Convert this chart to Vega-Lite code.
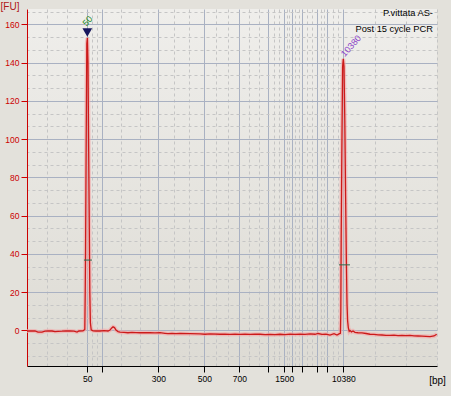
{
  "$schema": "https://vega.github.io/schema/vega-lite/v6.json",
  "width": 410,
  "height": 357,
  "autosize": {"type": "none"},
  "padding": {"left": 27, "top": 9, "right": 14, "bottom": 30},
  "background": "#e3e1db",
  "view": {
    "stroke": null,
    "fill": {"gradient": "linear", "x1": 0, "y1": 0, "x2": 0, "y2": 1, "stops": [{"offset": 0, "color": "#efeeeb"}, {"offset": 1, "color": "#dddbd4"}]}
  },
  "config": {
    "font": "Liberation Sans",
    "axis": {"labelFont": "Liberation Sans", "titleFont": "Liberation Sans"}
  },
  "datasets": {
    "trace": [
      {"t": 20.00, "fu": -0.3}, {"t": 20.73, "fu": -0.3}, {"t": 21.95, "fu": -0.3}, {"t": 22.68, "fu": -0.9},
      {"t": 23.66, "fu": -0.9}, {"t": 24.39, "fu": -0.4}, {"t": 25.12, "fu": -0.2}, {"t": 26.10, "fu": -0.3},
      {"t": 26.83, "fu": -0.6}, {"t": 27.56, "fu": -0.5}, {"t": 28.54, "fu": -0.4}, {"t": 29.51, "fu": -0.2},
      {"t": 30.49, "fu": -0.3}, {"t": 31.46, "fu": -0.4}, {"t": 32.20, "fu": -0.9}, {"t": 32.68, "fu": -0.3},
      {"t": 33.66, "fu": -0.2}, {"t": 34.10, "fu": 0.5}, {"t": 34.20, "fu": 20}, {"t": 34.29, "fu": 44},
      {"t": 34.44, "fu": 100}, {"t": 34.59, "fu": 150}, {"t": 34.73, "fu": 153}, {"t": 34.88, "fu": 140},
      {"t": 35.02, "fu": 100}, {"t": 35.17, "fu": 60}, {"t": 35.32, "fu": 20}, {"t": 35.46, "fu": 4},
      {"t": 35.66, "fu": 0.3}, {"t": 36.10, "fu": -0.2}, {"t": 36.83, "fu": -0.3}, {"t": 37.80, "fu": -0.3},
      {"t": 38.78, "fu": -0.1}, {"t": 39.76, "fu": -0.3}, {"t": 40.24, "fu": 0.2}, {"t": 40.61, "fu": 1.2},
      {"t": 40.98, "fu": 1.9}, {"t": 41.34, "fu": 1.5}, {"t": 41.71, "fu": 0.2}, {"t": 42.20, "fu": -0.6},
      {"t": 42.68, "fu": -0.9}, {"t": 43.66, "fu": -1.0}, {"t": 44.63, "fu": -1.2}, {"t": 45.61, "fu": -1.0},
      {"t": 46.59, "fu": -1.1}, {"t": 47.56, "fu": -1.2}, {"t": 48.78, "fu": -1.1}, {"t": 50.00, "fu": -1.2},
      {"t": 51.22, "fu": -1.3}, {"t": 52.44, "fu": -1.2}, {"t": 53.66, "fu": -1.5}, {"t": 54.39, "fu": -1.7},
      {"t": 55.37, "fu": -1.5}, {"t": 56.34, "fu": -1.7}, {"t": 57.32, "fu": -1.6}, {"t": 59.76, "fu": -1.7},
      {"t": 62.20, "fu": -1.8}, {"t": 63.41, "fu": -2.0}, {"t": 64.63, "fu": -1.8}, {"t": 67.07, "fu": -2.0},
      {"t": 68.29, "fu": -1.9}, {"t": 69.51, "fu": -2.1}, {"t": 70.73, "fu": -1.9}, {"t": 71.95, "fu": -2.1},
      {"t": 73.17, "fu": -1.9}, {"t": 74.39, "fu": -2.1}, {"t": 75.61, "fu": -2.0}, {"t": 76.83, "fu": -2.0},
      {"t": 78.05, "fu": -2.2}, {"t": 79.27, "fu": -2.1}, {"t": 80.49, "fu": -2.2}, {"t": 81.71, "fu": -2.0},
      {"t": 82.93, "fu": -2.2}, {"t": 84.15, "fu": -1.9}, {"t": 85.37, "fu": -2.1}, {"t": 86.59, "fu": -1.9},
      {"t": 87.80, "fu": -2.1}, {"t": 89.02, "fu": -1.8}, {"t": 90.24, "fu": -2.0}, {"t": 90.98, "fu": -1.6},
      {"t": 91.95, "fu": -2.1}, {"t": 92.93, "fu": -1.9}, {"t": 93.90, "fu": -2.4}, {"t": 94.88, "fu": -1.7},
      {"t": 95.61, "fu": -2.4}, {"t": 96.10, "fu": -1.8}, {"t": 96.44, "fu": -1.5}, {"t": 96.54, "fu": 10},
      {"t": 96.63, "fu": 48}, {"t": 96.78, "fu": 90}, {"t": 96.98, "fu": 138}, {"t": 97.15, "fu": 142},
      {"t": 97.32, "fu": 138}, {"t": 97.51, "fu": 110}, {"t": 97.71, "fu": 70}, {"t": 97.90, "fu": 35},
      {"t": 98.05, "fu": 14}, {"t": 98.20, "fu": 5}, {"t": 98.37, "fu": 1.5}, {"t": 98.59, "fu": -0.5},
      {"t": 98.78, "fu": 0}, {"t": 99.15, "fu": -0.8}, {"t": 99.51, "fu": -0.3}, {"t": 100.00, "fu": -1.0},
      {"t": 100.73, "fu": -1.2}, {"t": 101.71, "fu": -1.3}, {"t": 102.68, "fu": -1.6}, {"t": 103.66, "fu": -2.0},
      {"t": 104.63, "fu": -2.1}, {"t": 105.61, "fu": -2.3}, {"t": 106.59, "fu": -2.4}, {"t": 107.56, "fu": -2.6},
      {"t": 108.54, "fu": -2.6}, {"t": 109.51, "fu": -2.5}, {"t": 110.49, "fu": -2.7}, {"t": 111.46, "fu": -2.6},
      {"t": 112.44, "fu": -2.7}, {"t": 113.41, "fu": -2.6}, {"t": 114.39, "fu": -2.8}, {"t": 115.37, "fu": -2.9},
      {"t": 116.34, "fu": -3.0}, {"t": 117.32, "fu": -3.1}, {"t": 118.29, "fu": -3.2}, {"t": 119.27, "fu": -2.9},
      {"t": 119.93, "fu": -2.0}
    ],
    "halfmarks": [
      {"t": 33.9, "t2": 35.85, "fu": 36.8},
      {"t": 96.1, "t2": 98.78, "fu": 34.3}
    ],
    "peaklabels": [
      {"bp": "50", "t": 34.76, "fu": 161.8},
      {"bp": "10380", "t": 99.02, "fu": 148.8}
    ],
    "markers": [
      {"bp": "50", "t": 34.71, "fu": 155.8}
    ]
  },
  "layer": [
    {
      "data": {"name": "trace"},
      "mark": {"type": "line", "stroke": "#f3a9a9", "strokeWidth": 4, "opacity": 0.65, "interpolate": "linear"},
      "encoding": {
        "x": {
          "field": "t", "type": "quantitative",
          "scale": {"domain": [20, 120], "nice": false, "zero": false},
          "axis": {
            "orient": "top", "values": [24.90, 29.81, 35.93, 37.15, 42.92, 47.47, 55.76, 59.50, 66.09, 68.93, 74.14, 76.49, 80.15, 81.46, 83.36, 83.96, 85.42, 86.29, 88.37, 89.58, 91.61, 92.43, 94.54, 95.85, 104.77, 112.38, 120],
            "grid": true, "gridColor": "#c5c5c5", "gridDash": [3, 3], "gridWidth": 1,
            "labels": false, "ticks": false, "domain": false, "title": null
          }
        },
        "y": {
          "field": "fu", "type": "quantitative",
          "scale": {"domain": [-18.6, 168.1], "nice": false, "zero": false},
          "axis": {
            "orient": "right", "values": [-13.333, -6.667, 6.667, 13.333, 26.667, 33.333, 46.667, 53.333, 66.667, 73.333, 86.667, 93.333, 106.667, 113.333, 126.667, 133.333, 146.667, 153.333, 166.667],
            "grid": true, "gridColor": "#c5c5c5", "gridDash": [3, 3], "gridWidth": 1,
            "labels": false, "ticks": false, "domain": false, "title": null
          }
        }
      }
    },
    {
      "data": {"name": "trace"},
      "mark": {"type": "line", "stroke": "#cc1a1a", "strokeWidth": 1.3, "interpolate": "linear"},
      "encoding": {
        "x": {
          "field": "t", "type": "quantitative",
          "scale": {"domain": [20, 120], "nice": false, "zero": false},
          "axis": {
            "orient": "bottom",
            "values": [34.71, 38.37, 52.02, 63.24, 71.78, 78.85, 82.76, 84.56, 87.15, 90.80, 93.24, 97.15],
            "labelExpr": "datum.value == 34.71 ? '50' : datum.value == 52.02 ? '300' : datum.value == 63.24 ? '500' : datum.value == 71.78 ? '700' : datum.value == 82.76 ? '1500' : datum.value == 97.15 ? '10380' : ''",
            "grid": true, "gridColor": "#a9b1c2", "gridWidth": 1,
            "domainColor": "#000000", "domainWidth": 1,
            "tickColor": "#000000", "tickSize": 6, "tickWidth": 1,
            "labelColor": "#000000", "labelFontSize": 8.5, "labelPadding": 2,
            "labelOverlap": false, "labelFlush": false,
            "title": "[bp]", "titleX": 410, "titleY": 14, "titleAlign": "center", "titleBaseline": "middle",
            "titleFontSize": 10, "titleFontWeight": "normal", "titleColor": "#000000"
          }
        },
        "y": {
          "field": "fu", "type": "quantitative",
          "scale": {"domain": [-18.6, 168.1], "nice": false, "zero": false},
          "axis": {
            "orient": "left",
            "values": [0, 20, 40, 60, 80, 100, 120, 140, 160],
            "grid": true, "gridColor": "#a9b1c2", "gridWidth": 1,
            "domainColor": "#cc0000", "domainWidth": 1,
            "tickColor": "#cc0000", "tickSize": 6, "tickWidth": 1,
            "labelColor": "#cc0000", "labelFontSize": 8.5, "labelPadding": 2,
            "labelOverlap": false, "labelFlush": false,
            "title": "[FU]", "titleAngle": 0, "titleX": -17.5, "titleY": -3, "titleAlign": "center", "titleBaseline": "middle",
            "titleFontSize": 10, "titleFontWeight": "normal", "titleColor": "#b01818"
          }
        }
      }
    },
    {
      "data": {"name": "halfmarks"},
      "mark": {"type": "rule", "stroke": "#2f6a4c", "strokeWidth": 1},
      "encoding": {
        "x": {"field": "t", "type": "quantitative", "scale": {"domain": [20, 120], "nice": false, "zero": false}, "axis": null},
        "x2": {"field": "t2"},
        "y": {"field": "fu", "type": "quantitative", "scale": {"domain": [-18.6, 168.1], "nice": false, "zero": false}, "axis": null}
      }
    },
    {
      "data": {"name": "markers"},
      "mark": {"type": "point", "shape": "triangle-down", "filled": true, "size": 95, "color": "#16165e", "opacity": 1},
      "encoding": {
        "x": {"field": "t", "type": "quantitative", "scale": {"domain": [20, 120], "nice": false, "zero": false}, "axis": null},
        "y": {"field": "fu", "type": "quantitative", "scale": {"domain": [-18.6, 168.1], "nice": false, "zero": false}, "axis": null}
      }
    },
    {
      "data": {"name": "peaklabels"},
      "mark": {"type": "text", "angle": -48, "align": "center", "baseline": "middle", "fontSize": 9, "font": "Liberation Sans"},
      "encoding": {
        "x": {"field": "t", "type": "quantitative", "scale": {"domain": [20, 120], "nice": false, "zero": false}, "axis": null},
        "y": {"field": "fu", "type": "quantitative", "scale": {"domain": [-18.6, 168.1], "nice": false, "zero": false}, "axis": null},
        "text": {"field": "bp"},
        "color": {"field": "bp", "type": "nominal", "scale": {"domain": ["50", "10380"], "range": ["#238a23", "#8a3cc8"]}, "legend": null}
      }
    },
    {
      "data": {"values": [{}]},
      "mark": {"type": "text", "text": ["P.vittata AS-", "Post 15 cycle PCR"], "align": "right", "baseline": "middle", "lineHeight": 15.3, "fontSize": 9.3, "font": "Liberation Sans", "color": "#000000"},
      "encoding": {
        "x": {"datum": 119.02, "type": "quantitative", "scale": {"domain": [20, 120], "nice": false, "zero": false}, "axis": null},
        "y": {"datum": 165.8, "type": "quantitative", "scale": {"domain": [-18.6, 168.1], "nice": false, "zero": false}, "axis": null}
      }
    }
  ],
  "resolve": {"axis": {"x": "independent", "y": "independent"}}
}
